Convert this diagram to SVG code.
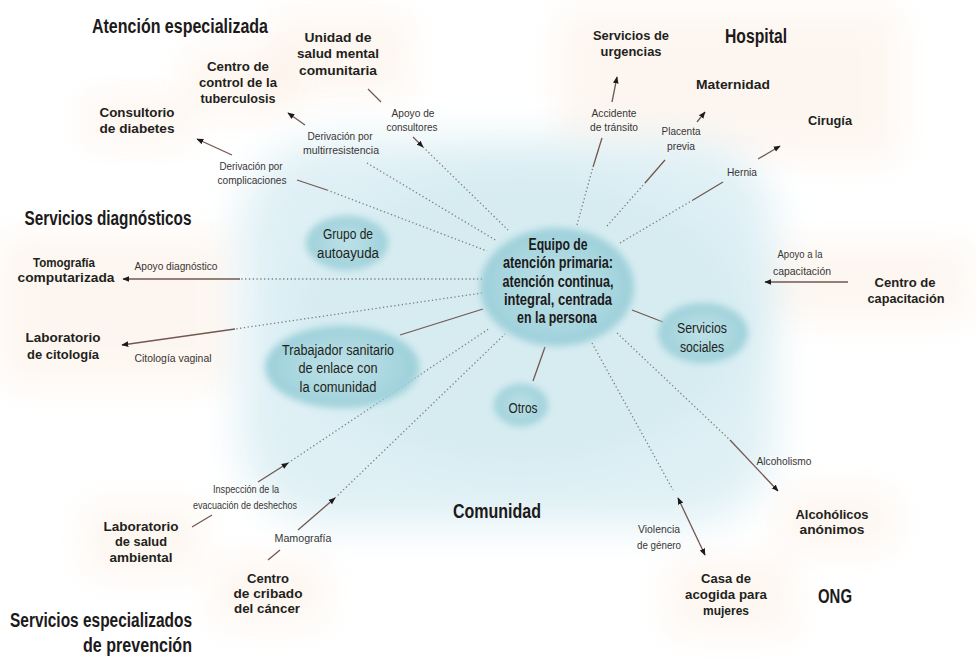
<svg xmlns="http://www.w3.org/2000/svg" width="976" height="669" viewBox="0 0 976 669">
<defs>
<style>
text{text-anchor:middle}
.h{font-family:"Liberation Sans",Arial,sans-serif;font-weight:bold;font-size:21px;fill:#1c1a1a}
.n{font-family:"Liberation Sans",Arial,sans-serif;font-weight:bold;font-size:13.5px;fill:#231f20}
.b{font-family:"Liberation Sans",Arial,sans-serif;font-size:15.5px;fill:#231f20}
.c{font-family:"Liberation Sans",Arial,sans-serif;font-weight:bold;font-size:16px;fill:#1c1a1a}
.s{font-family:"Liberation Sans",Arial,sans-serif;font-size:11px;fill:#3a3535}
.sl{fill:none;stroke:#735750;stroke-width:1.3}
.dl{fill:none;stroke:#7d7d7d;stroke-width:1.3;stroke-dasharray:1.3 2.5}
.blob{fill:url(#blobg);filter:url(#bsoft)}
.peach{fill:#fbeadc;opacity:0.4;filter:url(#soft)}
</style>
<filter id="soft" x="-40%" y="-40%" width="180%" height="180%"><feGaussianBlur stdDeviation="16"/></filter>
<filter id="big" x="-30%" y="-30%" width="160%" height="160%"><feGaussianBlur stdDeviation="20"/></filter>
<filter id="bsoft" x="-30%" y="-30%" width="160%" height="160%"><feGaussianBlur stdDeviation="3.5"/></filter>
<radialGradient id="blobg" cx="50%" cy="50%" r="50%">
<stop offset="0" stop-color="#bfe2e8"/>
<stop offset="0.75" stop-color="#a6d5de"/>
<stop offset="1" stop-color="#9ccfd9"/>
</radialGradient>
<marker id="ah" viewBox="0 0 10 10" refX="9" refY="5" markerWidth="7" markerHeight="7" markerUnits="userSpaceOnUse" orient="auto-start-reverse">
<path d="M0,1 L10,5 L0,9 z" fill="#1c1a1a"/>
</marker>
</defs>
<rect width="976" height="669" fill="#ffffff"/>
<g id="background">
<rect class="peach" x="270" y="15" width="140" height="80"/>
<rect class="peach" x="185" y="50" width="110" height="65"/>
<rect class="peach" x="85" y="95" width="105" height="50"/>
<rect class="peach" x="560" y="10" width="340" height="150"/>
<rect class="peach" x="0" y="235" width="235" height="150"/>
<rect class="peach" x="745" y="245" width="225" height="75"/>
<rect class="peach" x="780" y="490" width="115" height="60"/>
<rect class="peach" x="670" y="560" width="125" height="75"/>
<rect class="peach" x="85" y="505" width="115" height="70"/>
<rect class="peach" x="215" y="560" width="110" height="65"/>
<rect x="240" y="140" width="535" height="385" rx="90" fill="#dff0f5" filter="url(#big)"/>
<ellipse cx="520" cy="320" rx="230" ry="150" fill="#d6ecf1" filter="url(#big)"/>
</g>
<g id="connectors">
<line class="sl" x1="232" y1="155" x2="197" y2="139" marker-end="url(#ah)"/>
<line class="sl" x1="297" y1="180" x2="327" y2="190"/>
<line class="dl" x1="327" y1="190" x2="487" y2="251"/>
<text class="s" x="251" y="170" textLength="63" lengthAdjust="spacingAndGlyphs">Derivación por</text>
<text class="s" x="252" y="184" textLength="69" lengthAdjust="spacingAndGlyphs">complicaciones</text>
<line class="sl" x1="305" y1="125" x2="288" y2="113" marker-end="url(#ah)"/>
<line class="dl" x1="367" y1="163" x2="497" y2="241"/>
<text class="s" x="340" y="140" textLength="65" lengthAdjust="spacingAndGlyphs">Derivación por</text>
<text class="s" x="341" y="154" textLength="76" lengthAdjust="spacingAndGlyphs">multirresistencia</text>
<line class="sl" x1="368" y1="89" x2="381" y2="102"/>
<line class="sl" x1="413" y1="137" x2="423" y2="147" marker-end="url(#ah)"/>
<line class="dl" x1="423" y1="147" x2="508" y2="230"/>
<text class="s" x="413" y="117" textLength="43" lengthAdjust="spacingAndGlyphs">Apoyo de</text>
<text class="s" x="412" y="131" textLength="51" lengthAdjust="spacingAndGlyphs">consultores</text>
<line class="dl" x1="577" y1="225" x2="593" y2="167"/>
<line class="sl" x1="593" y1="167" x2="602" y2="138"/>
<line class="sl" x1="612" y1="102" x2="617" y2="77" marker-end="url(#ah)"/>
<text class="s" x="614" y="117" textLength="45" lengthAdjust="spacingAndGlyphs">Accidente</text>
<text class="s" x="614" y="131" textLength="48" lengthAdjust="spacingAndGlyphs">de tránsito</text>
<line class="dl" x1="607" y1="226" x2="645" y2="183"/>
<line class="sl" x1="645" y1="183" x2="665" y2="160"/>
<line class="sl" x1="697" y1="122" x2="705" y2="112" marker-end="url(#ah)"/>
<text class="s" x="681" y="135" textLength="39" lengthAdjust="spacingAndGlyphs">Placenta</text>
<text class="s" x="681" y="150" textLength="28" lengthAdjust="spacingAndGlyphs">previa</text>
<line class="dl" x1="620" y1="243" x2="693" y2="200"/>
<line class="sl" x1="693" y1="200" x2="723" y2="182"/>
<line class="sl" x1="758" y1="159" x2="780" y2="146" marker-end="url(#ah)"/>
<text class="s" x="742" y="176" textLength="30" lengthAdjust="spacingAndGlyphs">Hernia</text>
<line class="dl" x1="482" y1="279" x2="240" y2="279"/>
<line class="sl" x1="240" y1="279" x2="123" y2="279" marker-end="url(#ah)"/>
<text class="s" x="176" y="270" textLength="83" lengthAdjust="spacingAndGlyphs">Apoyo diagnóstico</text>
<line class="dl" x1="482" y1="293" x2="235" y2="329"/>
<line class="sl" x1="235" y1="329" x2="122" y2="345" marker-end="url(#ah)"/>
<text class="s" x="173" y="362" textLength="77" lengthAdjust="spacingAndGlyphs">Citología vaginal</text>
<line class="sl" x1="400" y1="335" x2="483" y2="309"/>
<line class="sl" x1="192" y1="527" x2="212" y2="515"/>
<line class="sl" x1="258" y1="482" x2="288" y2="463" marker-end="url(#ah)"/>
<line class="dl" x1="288" y1="463" x2="490" y2="328"/>
<text class="s" x="246" y="493" textLength="66" lengthAdjust="spacingAndGlyphs">Inspección de la</text>
<text class="s" x="245" y="509" textLength="104" lengthAdjust="spacingAndGlyphs">evacuación de deshechos</text>
<line class="sl" x1="268" y1="560" x2="280" y2="550"/>
<line class="sl" x1="298" y1="530" x2="335" y2="498" marker-end="url(#ah)"/>
<line class="dl" x1="335" y1="498" x2="505" y2="334"/>
<text class="s" x="303" y="542" textLength="57" lengthAdjust="spacingAndGlyphs">Mamografía</text>
<line class="sl" x1="545" y1="347" x2="533" y2="381"/>
<line class="sl" x1="632" y1="310" x2="663" y2="322"/>
<line class="dl" x1="592" y1="343" x2="673" y2="490"/>
<line class="sl" x1="678" y1="498" x2="705" y2="555" marker-start="url(#ah)" marker-end="url(#ah)"/>
<text class="s" x="659" y="533" textLength="42" lengthAdjust="spacingAndGlyphs">Violencia</text>
<text class="s" x="659" y="549" textLength="44" lengthAdjust="spacingAndGlyphs">de género</text>
<line class="dl" x1="617" y1="333" x2="730" y2="440"/>
<line class="sl" x1="730" y1="440" x2="778" y2="491" marker-end="url(#ah)"/>
<text class="s" x="784" y="465" textLength="55" lengthAdjust="spacingAndGlyphs">Alcoholismo</text>
<line class="sl" x1="848" y1="282" x2="765" y2="282" marker-end="url(#ah)"/>
<text class="s" x="800" y="258" textLength="45" lengthAdjust="spacingAndGlyphs">Apoyo a la</text>
<text class="s" x="802" y="275" textLength="58" lengthAdjust="spacingAndGlyphs">capacitación</text>
</g>
<g id="equipo-atencion-primaria">
<ellipse class="blob" cx="557" cy="287" rx="77" ry="59"/>
<text class="c" x="558" y="250" textLength="59" lengthAdjust="spacingAndGlyphs">Equipo de</text>
<text class="c" x="558" y="268" textLength="110" lengthAdjust="spacingAndGlyphs">atención primaria:</text>
<text class="c" x="558" y="287" textLength="111" lengthAdjust="spacingAndGlyphs">atención continua,</text>
<text class="c" x="558" y="305" textLength="108" lengthAdjust="spacingAndGlyphs">integral, centrada</text>
<text class="c" x="557" y="323" textLength="80" lengthAdjust="spacingAndGlyphs">en la persona</text>
</g>
<g id="grupo-autoayuda">
<ellipse class="blob" cx="347" cy="243" rx="41" ry="27"/>
<text class="b" x="348" y="239" textLength="50" lengthAdjust="spacingAndGlyphs">Grupo de</text>
<text class="b" x="348" y="258" textLength="62" lengthAdjust="spacingAndGlyphs">autoayuda</text>
</g>
<g id="trabajador-sanitario">
<ellipse class="blob" cx="342" cy="367" rx="77" ry="41"/>
<text class="b" x="338" y="355" textLength="112" lengthAdjust="spacingAndGlyphs">Trabajador sanitario</text>
<text class="b" x="338" y="373" textLength="79" lengthAdjust="spacingAndGlyphs">de enlace con</text>
<text class="b" x="338" y="392" textLength="77" lengthAdjust="spacingAndGlyphs">la comunidad</text>
</g>
<g id="otros">
<ellipse class="blob" cx="521" cy="405" rx="27" ry="21"/>
<text class="b" x="523" y="413" textLength="29" lengthAdjust="spacingAndGlyphs">Otros</text>
</g>
<g id="servicios-sociales">
<ellipse class="blob" cx="703" cy="333" rx="45" ry="30"/>
<text class="b" x="702" y="333" textLength="50" lengthAdjust="spacingAndGlyphs">Servicios</text>
<text class="b" x="702" y="352" textLength="44" lengthAdjust="spacingAndGlyphs">sociales</text>
</g>
<g id="atencion-especializada">
<text class="h" transform="translate(180,33) scale(0.76,1)" textLength="231.6" lengthAdjust="spacingAndGlyphs">Atención especializada</text>
</g>
<g id="unidad-salud-mental">
<text class="n" x="338" y="42" textLength="67" lengthAdjust="spacingAndGlyphs">Unidad de</text>
<text class="n" x="338" y="58" textLength="82" lengthAdjust="spacingAndGlyphs">salud mental</text>
<text class="n" x="338" y="75" textLength="78" lengthAdjust="spacingAndGlyphs">comunitaria</text>
</g>
<g id="centro-tuberculosis">
<text class="n" x="238" y="71" textLength="62" lengthAdjust="spacingAndGlyphs">Centro de</text>
<text class="n" x="238" y="87" textLength="78" lengthAdjust="spacingAndGlyphs">control de la</text>
<text class="n" x="238" y="103" textLength="75" lengthAdjust="spacingAndGlyphs">tuberculosis</text>
</g>
<g id="consultorio-diabetes">
<text class="n" x="137" y="117" textLength="75" lengthAdjust="spacingAndGlyphs">Consultorio</text>
<text class="n" x="137" y="133" textLength="75" lengthAdjust="spacingAndGlyphs">de diabetes</text>
</g>
<g id="servicios-diagnosticos">
<text class="h" transform="translate(108,225) scale(0.76,1)" textLength="219.7" lengthAdjust="spacingAndGlyphs">Servicios diagnósticos</text>
</g>
<g id="tomografia">
<text class="n" x="64" y="267" textLength="62" lengthAdjust="spacingAndGlyphs">Tomografía</text>
<text class="n" x="66" y="282" textLength="97" lengthAdjust="spacingAndGlyphs">computarizada</text>
</g>
<g id="laboratorio-citologia">
<text class="n" x="63" y="342" textLength="75" lengthAdjust="spacingAndGlyphs">Laboratorio</text>
<text class="n" x="63" y="359" textLength="72" lengthAdjust="spacingAndGlyphs">de citología</text>
</g>
<g id="hospital">
<text class="h" transform="translate(756,43) scale(0.76,1)" textLength="81.6" lengthAdjust="spacingAndGlyphs">Hospital</text>
</g>
<g id="servicios-urgencias">
<text class="n" x="631" y="40" textLength="76" lengthAdjust="spacingAndGlyphs">Servicios de</text>
<text class="n" x="631" y="56" textLength="61" lengthAdjust="spacingAndGlyphs">urgencias</text>
</g>
<g id="maternidad">
<text class="n" x="733" y="89" textLength="74" lengthAdjust="spacingAndGlyphs">Maternidad</text>
</g>
<g id="cirugia">
<text class="n" x="830" y="125" textLength="44" lengthAdjust="spacingAndGlyphs">Cirugía</text>
</g>
<g id="centro-capacitacion">
<text class="n" x="905" y="287" textLength="61" lengthAdjust="spacingAndGlyphs">Centro de</text>
<text class="n" x="906" y="303" textLength="77" lengthAdjust="spacingAndGlyphs">capacitación</text>
</g>
<g id="alcoholicos-anonimos">
<text class="n" x="832" y="519" textLength="73" lengthAdjust="spacingAndGlyphs">Alcohólicos</text>
<text class="n" x="832" y="534" textLength="65" lengthAdjust="spacingAndGlyphs">anónimos</text>
</g>
<g id="ong">
<text class="h" transform="translate(835,603) scale(0.76,1)" textLength="44.7" lengthAdjust="spacingAndGlyphs">ONG</text>
</g>
<g id="casa-acogida">
<text class="n" x="726" y="583" textLength="50" lengthAdjust="spacingAndGlyphs">Casa de</text>
<text class="n" x="726" y="599" textLength="82" lengthAdjust="spacingAndGlyphs">acogida para</text>
<text class="n" x="726" y="615" textLength="46" lengthAdjust="spacingAndGlyphs">mujeres</text>
</g>
<g id="comunidad">
<text class="h" transform="translate(497,518) scale(0.76,1)" textLength="115.8" lengthAdjust="spacingAndGlyphs">Comunidad</text>
</g>
<g id="laboratorio-salud-ambiental">
<text class="n" x="141" y="531" textLength="75" lengthAdjust="spacingAndGlyphs">Laboratorio</text>
<text class="n" x="141" y="546" textLength="52" lengthAdjust="spacingAndGlyphs">de salud</text>
<text class="n" x="141" y="562" textLength="63" lengthAdjust="spacingAndGlyphs">ambiental</text>
</g>
<g id="centro-cribado">
<text class="n" x="268" y="583" textLength="42" lengthAdjust="spacingAndGlyphs">Centro</text>
<text class="n" x="268" y="598" textLength="69" lengthAdjust="spacingAndGlyphs">de cribado</text>
<text class="n" x="267" y="613" textLength="66" lengthAdjust="spacingAndGlyphs">del cáncer</text>
</g>
<g id="servicios-prevencion">
<text class="h" transform="translate(192,627) scale(0.76,1)" textLength="239.5" lengthAdjust="spacingAndGlyphs" style="text-anchor:end">Servicios especializados</text>
<text class="h" transform="translate(192,652) scale(0.76,1)" textLength="143.4" lengthAdjust="spacingAndGlyphs" style="text-anchor:end">de prevención</text>
</g>
</svg>
